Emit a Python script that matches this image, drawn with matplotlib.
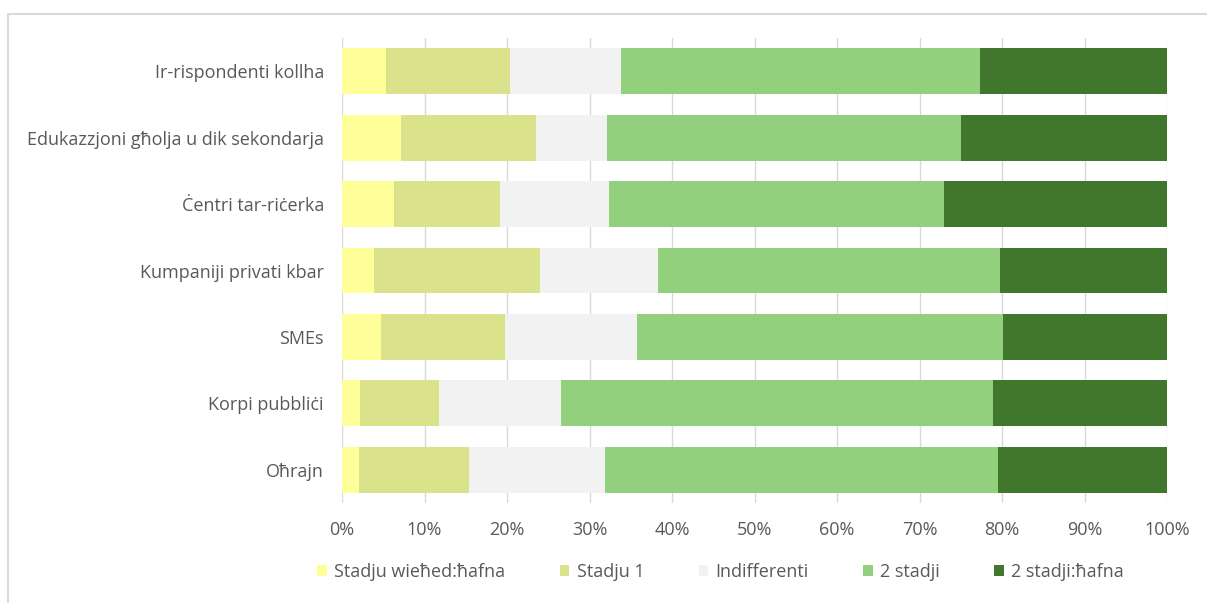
import matplotlib
matplotlib.use("Agg")
import matplotlib.pyplot as plt
from matplotlib.patches import Rectangle, Patch
import numpy as np

plt.rcParams['font.family'] = ['Open Sans', 'DejaVu Sans']

categories = ["Ir-rispondenti kollha", "Edukazzjoni għolja u dik sekondarja",
              "Ċentri tar-riċerka", "Kumpaniji privati kbar", "SMEs",
              "Korpi pubbliċi", "Oħrajn"]
series_names = ["Stadju wieħed:ħafna", "Stadju 1", "Indifferenti", "2 stadji", "2 stadji:ħafna"]
stadju_wiehed_hafna = [5.3, 7.2, 6.3, 3.9, 4.7, 2.2, 2.1]
stadju_1 = [15.1, 16.3, 12.9, 20.1, 15.1, 9.6, 13.3]
indifferenti = [13.4, 8.6, 13.2, 14.3, 16.0, 14.7, 16.5]
zewg_stadji = [43.5, 42.9, 40.6, 41.5, 44.3, 52.4, 47.6]
zewg_stadji_hafna = [22.7, 25.0, 27.0, 20.2, 19.9, 21.1, 20.5]
tick_labels = ["0%", "10%", "20%", "30%", "40%", "50%", "60%", "70%", "80%", "90%", "100%"]

colors = ["#FFFF99", "#DAE38B", "#F2F2F2", "#93D07D", "#41772C"]
series = [stadju_wiehed_hafna, stadju_1, indifferenti, zewg_stadji, zewg_stadji_hafna]

fig = plt.figure(figsize=(12.07, 6.03), dpi=100)
fig.patches.append(Rectangle((8/1207, -0.1), 1.2, 1 - 14/603 + 0.1, transform=fig.transFigure,
                             fill=False, edgecolor="#D9D9D9", linewidth=1.5))
ax = fig.add_axes([342/1207, 1 - 503/603, 825/1207, 465/603])

y = np.arange(len(categories))
left = np.zeros(len(categories))
for vals, col, name in zip(series, colors, series_names):
    vals = np.array(vals)
    ax.barh(y, vals, left=left, height=0.69, color=col, label=name, zorder=2)
    left += vals

ax.set_xlim(0, 100)
ax.set_ylim(len(categories) - 0.5, -0.5)
ax.set_yticks(y)
ax.set_yticklabels(categories, fontsize=13, color="#595959")
ax.set_xticks(np.arange(0, 101, 10))
ax.set_xticklabels(tick_labels, fontsize=13, color="#595959")
ax.tick_params(axis='y', length=0, pad=13)
ax.tick_params(axis='x', length=0, pad=13)
for s in ax.spines.values():
    s.set_visible(False)
ax.grid(axis='x', color="#D9D9D9", linewidth=1, zorder=0)
ax.set_axisbelow(True)

handles = [Patch(facecolor=c, edgecolor='none') for c in colors]
fig.legend(handles, series_names, loc='center', bbox_to_anchor=(0.597, 1 - 572/603),
           ncol=5, frameon=False, fontsize=13, handlelength=0.55, handleheight=0.55,
           handletextpad=0.4, columnspacing=3.0, labelcolor="#595959")

fig.savefig("out.png", dpi=100)
